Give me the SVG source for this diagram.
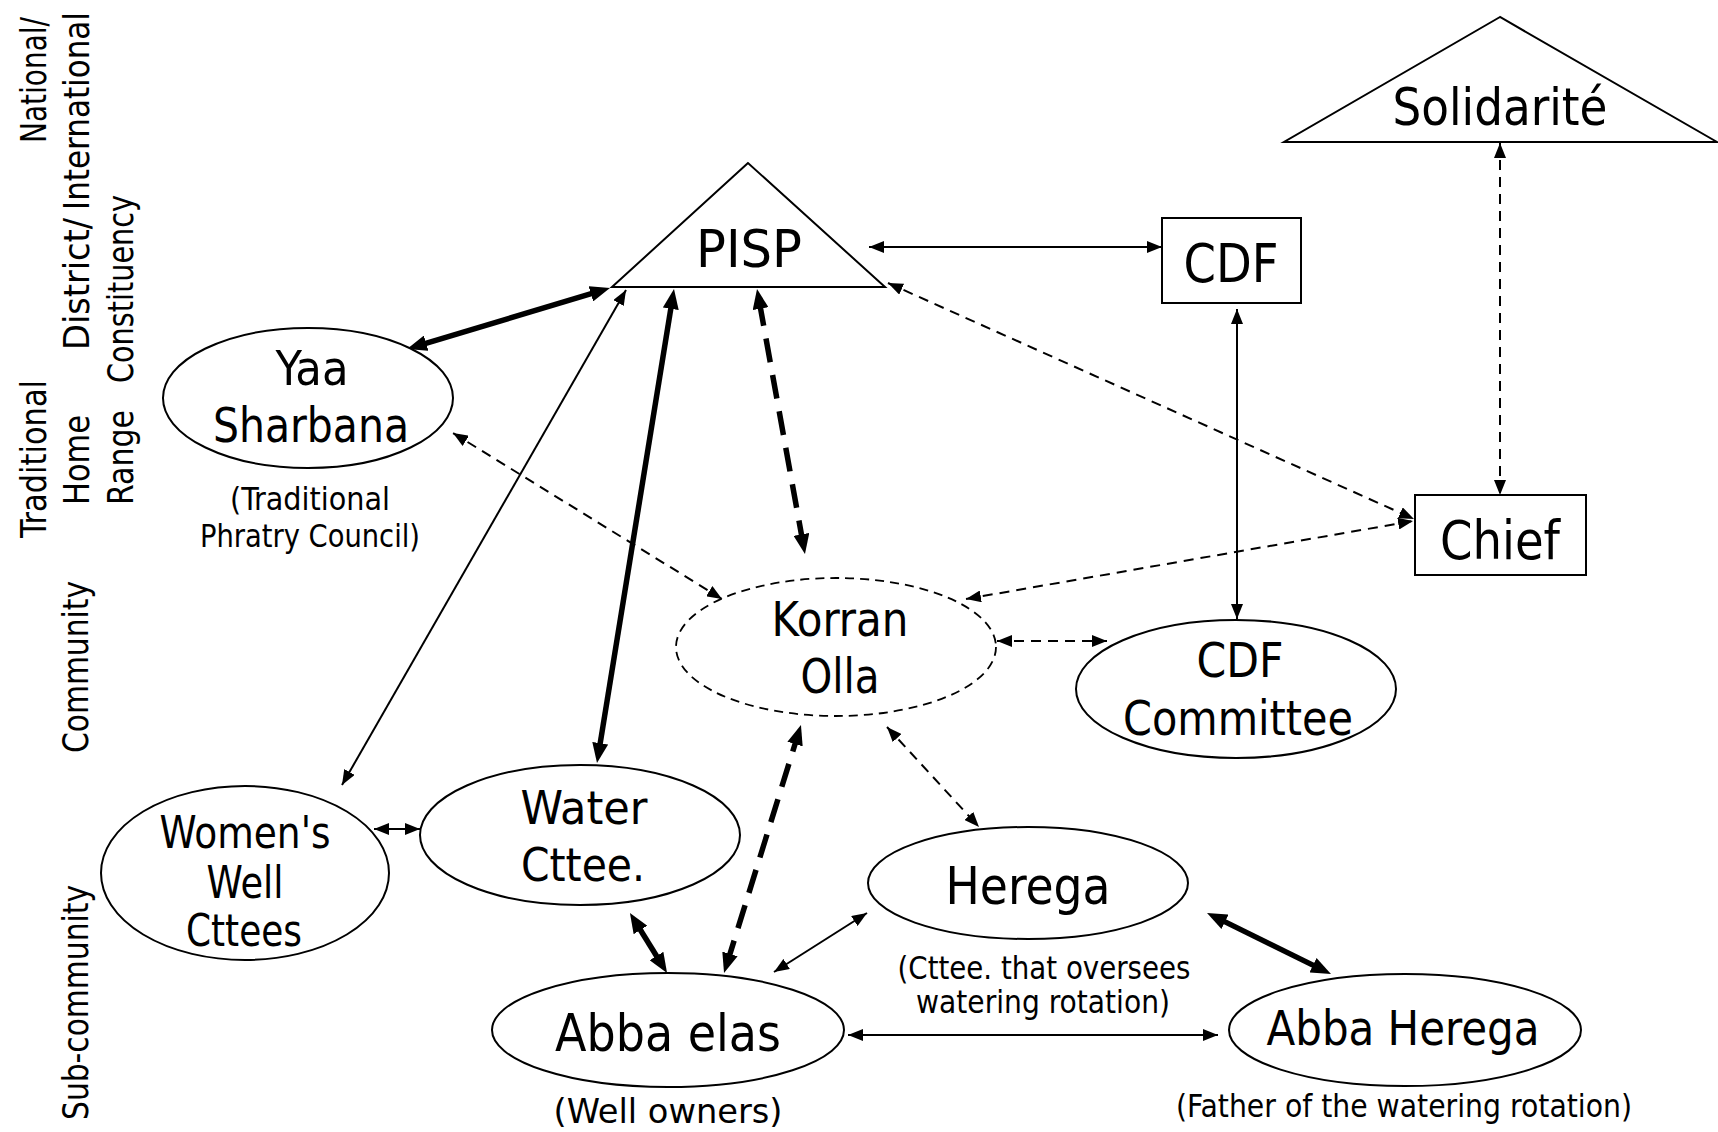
<svg xmlns="http://www.w3.org/2000/svg" width="1718" height="1132" viewBox="0 0 1718 1132">
<style>
.shape{fill:#fff;stroke:#000;stroke-width:2}
.dashshape{fill:#fff;stroke:#000;stroke-width:1.8;stroke-dasharray:9 6}
text{font-family:"DejaVu Sans Condensed","DejaVu Sans",sans-serif;fill:#000}
.lvl{font-size:36px}
.thin{stroke:#000;stroke-width:2;fill:none;marker-start:url(#ah);marker-end:url(#ah)}
.thind{stroke:#000;stroke-width:2;fill:none;stroke-dasharray:10 7;marker-start:url(#ah);marker-end:url(#ah)}
.thick{stroke:#000;stroke-width:5.5;fill:none;marker-start:url(#ahk);marker-end:url(#ahk)}
.thickd{stroke:#000;stroke-width:5.5;fill:none;stroke-dasharray:24 13;marker-start:url(#ahk);marker-end:url(#ahk)}
</style>
<defs>
<marker id="ah" markerUnits="userSpaceOnUse" markerWidth="16" markerHeight="12" refX="15" refY="6" orient="auto-start-reverse"><path d="M0,0 L15,6 L0,12 z" fill="#000"/></marker>
<marker id="ahk" markerUnits="userSpaceOnUse" markerWidth="20" markerHeight="16" refX="10" refY="8" orient="auto-start-reverse"><path d="M0,0 L20,8 L0,16 z" fill="#000"/></marker>
</defs>
<rect width="1718" height="1132" fill="#fff"/>

<g id="level-labels" class="lvl">
<text transform="translate(46,143) rotate(-90)" textLength="126" lengthAdjust="spacingAndGlyphs">National/</text>
<text transform="translate(89,210) rotate(-90)" textLength="198" lengthAdjust="spacingAndGlyphs">International</text>
<text transform="translate(89,350) rotate(-90)" textLength="132" lengthAdjust="spacingAndGlyphs">District/</text>
<text transform="translate(133,383) rotate(-90)" textLength="188" lengthAdjust="spacingAndGlyphs">Constituency</text>
<text transform="translate(46,538) rotate(-90)" textLength="158" lengthAdjust="spacingAndGlyphs">Traditional</text>
<text transform="translate(89,505) rotate(-90)" textLength="90" lengthAdjust="spacingAndGlyphs">Home</text>
<text transform="translate(133,505) rotate(-90)" textLength="95" lengthAdjust="spacingAndGlyphs">Range</text>
<text transform="translate(88,753) rotate(-90)" textLength="172" lengthAdjust="spacingAndGlyphs">Community</text>
<text transform="translate(88,1120) rotate(-90)" textLength="235" lengthAdjust="spacingAndGlyphs">Sub-community</text>
</g>

<g id="connectors">
<line class="thin" x1="869" y1="247" x2="1162" y2="247"/>
<line class="thin" x1="1237" y1="309" x2="1237" y2="619"/>
<line class="thin" x1="342" y1="785" x2="626" y2="290"/>
<line class="thin" x1="374" y1="829" x2="420" y2="829"/>
<line class="thin" x1="774" y1="972" x2="867" y2="913"/>
<line class="thin" x1="848" y1="1035" x2="1218" y2="1035"/>
<line class="thind" x1="1500" y1="143" x2="1500" y2="495"/>
<line class="thind" x1="888" y1="283" x2="1414" y2="519"/>
<line class="thind" x1="966" y1="599" x2="1413" y2="521"/>
<line class="thind" x1="722" y1="599" x2="453" y2="433"/>
<line class="thind" x1="997" y1="641" x2="1107" y2="641"/>
<line class="thind" x1="887" y1="727" x2="979" y2="827"/>
<line class="thick" x1="416.6" y1="346.1" x2="600.4" y2="290.9"/>
<line class="thick" x1="598.6" y1="753.1" x2="672.4" y2="298.9"/>
<line class="thick" x1="635.2" y1="921.5" x2="661.8" y2="964.5"/>
<line class="thick" x1="1216" y1="917.4" x2="1322" y2="969.6"/>
<line class="thickd" x1="803.2" y1="544.2" x2="758.8" y2="298.8"/>
<line class="thickd" x1="727" y1="963.5" x2="798" y2="734.5"/>
</g>

<g id="solidarite">
<polygon class="shape" points="1500,17 1284,142 1717,142"/>
<text x="1500" y="125" font-size="51" text-anchor="middle" textLength="215" lengthAdjust="spacingAndGlyphs">Solidarité</text>
</g>
<g id="pisp">
<polygon class="shape" points="748,163 612,287 885,287"/>
<text x="749" y="267" font-size="51" text-anchor="middle" textLength="106" lengthAdjust="spacingAndGlyphs">PISP</text>
</g>
<g id="cdf">
<rect class="shape" x="1162" y="218" width="139" height="85"/>
<text x="1231" y="282" font-size="53" text-anchor="middle" textLength="95" lengthAdjust="spacingAndGlyphs">CDF</text>
</g>
<g id="chief">
<rect class="shape" x="1415" y="495" width="171" height="80"/>
<text x="1500" y="559" font-size="53" text-anchor="middle" textLength="120" lengthAdjust="spacingAndGlyphs">Chief</text>
</g>
<g id="yaa-sharbana">
<ellipse class="shape" cx="308" cy="398" rx="145" ry="70"/>
<text x="312" y="385" font-size="48" text-anchor="middle" textLength="73" lengthAdjust="spacingAndGlyphs">Yaa</text>
<text x="311" y="442" font-size="48" text-anchor="middle" textLength="196" lengthAdjust="spacingAndGlyphs">Sharbana</text>
<text x="310" y="510" font-size="32" text-anchor="middle" textLength="160" lengthAdjust="spacingAndGlyphs">(Traditional</text>
<text x="310" y="547" font-size="32" text-anchor="middle" textLength="220" lengthAdjust="spacingAndGlyphs">Phratry Council)</text>
</g>
<g id="korran-olla">
<ellipse class="dashshape" cx="836" cy="647" rx="160" ry="69"/>
<text x="840" y="636" font-size="48" text-anchor="middle" textLength="137" lengthAdjust="spacingAndGlyphs">Korran</text>
<text x="840" y="693" font-size="48" text-anchor="middle" textLength="79" lengthAdjust="spacingAndGlyphs">Olla</text>
</g>
<g id="cdf-committee">
<ellipse class="shape" cx="1236" cy="689" rx="160" ry="69"/>
<text x="1240" y="677" font-size="48" text-anchor="middle" textLength="87" lengthAdjust="spacingAndGlyphs">CDF</text>
<text x="1238" y="735" font-size="48" text-anchor="middle" textLength="230" lengthAdjust="spacingAndGlyphs">Committee</text>
</g>
<g id="womens-well-cttees">
<ellipse class="shape" cx="245" cy="873" rx="144" ry="87"/>
<text x="245" y="848" font-size="44" text-anchor="middle" textLength="171" lengthAdjust="spacingAndGlyphs">Women's</text>
<text x="245" y="898" font-size="44" text-anchor="middle" textLength="77" lengthAdjust="spacingAndGlyphs">Well</text>
<text x="244" y="946" font-size="44" text-anchor="middle" textLength="116" lengthAdjust="spacingAndGlyphs">Cttees</text>
</g>
<g id="water-cttee">
<ellipse class="shape" cx="580" cy="835" rx="160" ry="70"/>
<text x="584" y="824" font-size="47" text-anchor="middle" textLength="127" lengthAdjust="spacingAndGlyphs">Water</text>
<text x="583" y="881" font-size="47" text-anchor="middle" textLength="124" lengthAdjust="spacingAndGlyphs">Cttee.</text>
</g>
<g id="herega">
<ellipse class="shape" cx="1028" cy="883" rx="160" ry="56"/>
<text x="1028" y="904" font-size="51" text-anchor="middle" textLength="165" lengthAdjust="spacingAndGlyphs">Herega</text>
<text x="1044" y="979" font-size="32" text-anchor="middle" textLength="293" lengthAdjust="spacingAndGlyphs">(Cttee. that oversees</text>
<text x="1043" y="1013" font-size="32" text-anchor="middle" textLength="254" lengthAdjust="spacingAndGlyphs">watering rotation)</text>
</g>
<g id="abba-elas">
<ellipse class="shape" cx="668" cy="1030" rx="176" ry="57"/>
<text x="668" y="1051" font-size="52" text-anchor="middle" textLength="226" lengthAdjust="spacingAndGlyphs">Abba elas</text>
<text x="668" y="1123" font-size="34" text-anchor="middle" textLength="229" lengthAdjust="spacingAndGlyphs">(Well owners)</text>
</g>
<g id="abba-herega">
<ellipse class="shape" cx="1405" cy="1030" rx="176" ry="56"/>
<text x="1403" y="1045" font-size="48" text-anchor="middle" textLength="273" lengthAdjust="spacingAndGlyphs">Abba Herega</text>
<text x="1404" y="1117" font-size="32" text-anchor="middle" textLength="456" lengthAdjust="spacingAndGlyphs">(Father of the watering rotation)</text>
</g>
</svg>
